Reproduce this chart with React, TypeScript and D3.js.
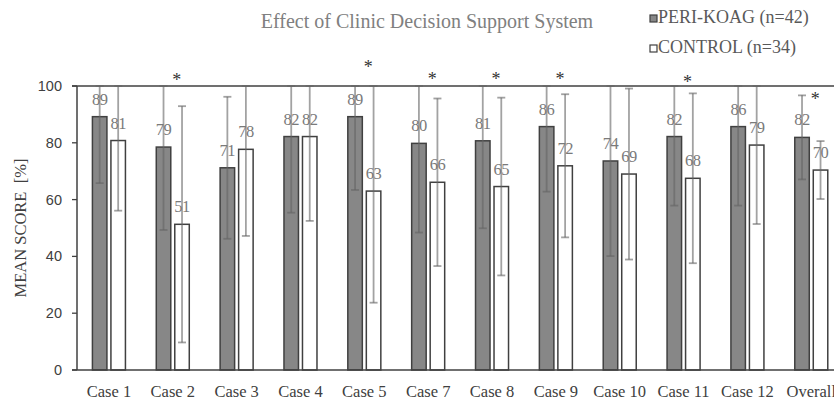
import React from 'react';
import * as d3 from 'd3';

// chart data
const cases = ['Case 1', 'Case 2', 'Case 3', 'Case 4', 'Case 5', 'Case 7', 'Case 8', 'Case 9', 'Case 10', 'Case 11', 'Case 12', 'Overall'];
const periMeans = [89.2, 78.5, 71.2, 82.2, 89.2, 79.8, 80.7, 85.7, 73.6, 82.2, 85.7, 81.9];
const periSd = [23.4, 29.2, 25.0, 26.8, 25.8, 31.4, 30.8, 22.9, 33.5, 24.3, 27.8, 14.8];
const controlMeans = [80.8, 51.3, 77.7, 82.2, 63.0, 66.1, 64.6, 71.9, 69.0, 67.5, 79.2, 70.4];
const controlSd = [24.7, 41.6, 30.5, 29.7, 39.3, 29.5, 31.3, 25.2, 30.1, 29.9, 27.8, 10.2];
// significance marks (value where the asterisk sits, null = none)
const asterisks = [null, 102.9, null, null, 107.4, 103, 103, 103, null, 102.1, null, 96.2];
const yTicks = [0, 20, 40, 60, 80, 100];

const seriesNames = ['PERI-KOAG (n=42)', 'CONTROL (n=34)'];
const seriesFill = ['#878787', '#ffffff'];

const W = 834;
const H = 401;
const serif = '"Liberation Serif", "Times New Roman", serif';
const sans = '"Liberation Sans", Arial, sans-serif';

const App = () => {
  const x = d3.scaleBand<string>()
    .domain(cases)
    .range([77, 77 + 12 * 63.85])
    .paddingInner(0.483)
    .paddingOuter(0.2415);

  const xSub = d3.scaleBand<string>()
    .domain(['peri', 'control'])
    .range([0, x.bandwidth()])
    .paddingInner(0.216);

  const y = d3.scaleLinear().domain([0, 100]).range([370, 86]);

  const series = [
    { key: 'peri', means: periMeans, sd: periSd, fill: seriesFill[0] },
    { key: 'control', means: controlMeans, sd: controlSd, fill: seriesFill[1] },
  ];

  const capW = 8;
  const errColor = 'rgba(100,100,100,0.6)';

  return (
    <svg width={W} height={H} style={{ position: 'absolute', left: 0, top: 0, background: '#fff' }}>
      {/* title */}
      <text x={427} y={28} textAnchor="middle" fontFamily={serif} fontSize={20} fill="#808080">
        Effect of Clinic Decision Support System
      </text>

      {/* legend */}
      {seriesNames.map((name, i) => (
        <g key={name} transform={`translate(650,${15 + i * 30})`}>
          <rect x={0} y={0} width={7} height={7} fill={seriesFill[i]} stroke="#404040" strokeWidth={1.2} />
          <text x={8} y={8} fontFamily={serif} fontSize={18} fill="#595959">{name}</text>
        </g>
      ))}

      {/* line at 100 */}
      <line x1={72} x2={W} y1={y(100)} y2={y(100)} stroke="#404040" strokeWidth={1.3} />

      {/* bars */}
      {series.map((s) =>
        cases.map((c, i) => (
          <rect
            key={s.key + c}
            x={(x(c) ?? 0) + (xSub(s.key) ?? 0)}
            y={y(s.means[i])}
            width={xSub.bandwidth()}
            height={y(0) - y(s.means[i])}
            fill={s.fill}
            stroke="#404040"
            strokeWidth={1.5}
          />
        ))
      )}

      {/* error bars */}
      {series.map((s) =>
        cases.map((c, i) => {
          const cx = (x(c) ?? 0) + (xSub(s.key) ?? 0) + xSub.bandwidth() / 2;
          const hi = y(Math.min(100, s.means[i] + s.sd[i]));
          const lo = y(s.means[i] - s.sd[i]);
          return (
            <g key={'e' + s.key + c} stroke={errColor} strokeWidth={1.8}>
              <line x1={cx} x2={cx} y1={hi} y2={lo} />
              <line x1={cx - capW / 2} x2={cx + capW / 2} y1={hi} y2={hi} />
              <line x1={cx - capW / 2} x2={cx + capW / 2} y1={lo} y2={lo} />
            </g>
          );
        })
      )}

      {/* value labels */}
      {series.map((s) =>
        cases.map((c, i) => (
          <text
            key={'l' + s.key + c}
            x={(x(c) ?? 0) + (xSub(s.key) ?? 0) + xSub.bandwidth() / 2}
            y={y(s.means[i]) - 12}
            textAnchor="middle"
            fontFamily={serif}
            fontSize={16.5}
            letterSpacing={-0.5}
            fill="#7a7a7a"
          >
            {Math.round(s.means[i])}
          </text>
        ))
      )}

      {/* asterisks */}
      {cases.map((c, i) =>
        asterisks[i] == null ? null : (
          <text
            key={'a' + c}
            x={(x(c) ?? 0) + x.bandwidth() / 2 + 4}
            y={y(asterisks[i] as number) + 8}
            textAnchor="middle"
            fontFamily={serif}
            fontSize={18}
            fill="#333"
          >
            *
          </text>
        )
      )}

      {/* y axis */}
      <line x1={77} x2={77} y1={y(0)} y2={y(100)} stroke="#404040" strokeWidth={1.5} />
      {yTicks.map((t) => (
        <g key={t}>
          <line x1={72} x2={77} y1={y(t)} y2={y(t)} stroke="#404040" strokeWidth={1.3} />
          <text x={62} y={y(t) + 5} textAnchor="end" fontFamily={sans} fontSize={14.5} fill="#404040">
            {t}
          </text>
        </g>
      ))}
      <text
        transform={`translate(26,228) rotate(-90)`}
        textAnchor="middle"
        fontFamily={serif}
        fontSize={16.5}
        fill="#404040"
        style={{ whiteSpace: 'pre' }}
      >
        {'MEAN SCORE  [%]'}
      </text>

      {/* x axis */}
      <line x1={72} x2={W} y1={y(0)} y2={y(0)} stroke="#404040" strokeWidth={1.5} />
      {cases.map((c) => (
        <text
          key={'x' + c}
          x={(x(c) ?? 0) + x.bandwidth() / 2}
          y={397}
          textAnchor="middle"
          fontFamily={serif}
          fontSize={16.5}
          fill="#404040"
        >
          {c}
        </text>
      ))}
    </svg>
  );
};

export default App;
